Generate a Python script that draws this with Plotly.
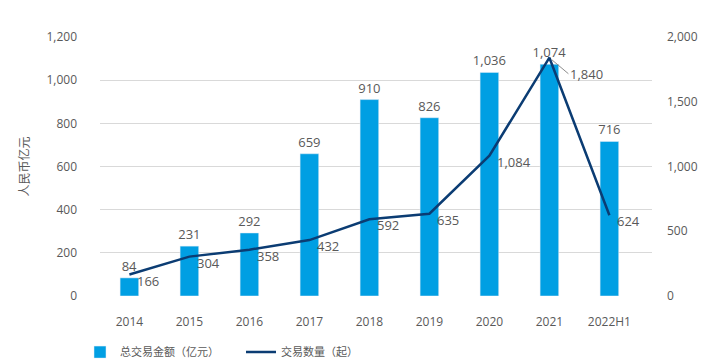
import plotly.graph_objects as go

years = ["2014", "2015", "2016", "2017", "2018", "2019", "2020", "2021", "2022H1"]
amount = [84, 231, 292, 659, 910, 826, 1036, 1074, 716]
count = [166, 304, 358, 432, 592, 635, 1084, 1840, 624]

FONT = "Open Sans, Noto Sans CJK SC, sans-serif"
GRAY = "#595959"

fig = go.Figure()
fig.add_trace(go.Bar(
    x=years, y=amount, name="总交易金额（亿元）",
    marker_color="#009FE3", width=0.31,
    text=[f"{v:,}" for v in amount], textposition="outside", constraintext="none",
    textfont=dict(color=GRAY, size=13, family=FONT), cliponaxis=False,
))
fig.add_trace(go.Scatter(
    x=years, y=count, name="交易数量（起）", yaxis="y2",
    mode="lines", line=dict(color="#0B3C73", width=2.5),
))

for i, v in enumerate(count):
    if years[i] == "2021":
        fig.add_annotation(x=i, y=v, yref="y2", text=f"{v:,}", showarrow=True,
                           arrowhead=0, arrowwidth=1, arrowcolor="#8c8c8c",
                           ax=19, ay=16, xanchor="left", standoff=3,
                           font=dict(color=GRAY, size=13, family=FONT))
    else:
        fig.add_annotation(x=i, y=v, yref="y2", text=f"{v:,}", showarrow=False,
                           xanchor="left", xshift=6, yshift=-6,
                           font=dict(color=GRAY, size=13, family=FONT))

fig.update_layout(
    width=720, height=363,
    margin=dict(l=92, r=76, t=29, b=75, autoexpand=False),
    paper_bgcolor="white", plot_bgcolor="white",
    font=dict(family=FONT, color=GRAY, size=12),
    showlegend=True,
    legend=dict(orientation="h", xref="container", yref="container",
                x=0.1, xanchor="left", y=0.052, yanchor="middle",
                font=dict(size=11, color=GRAY, family=FONT),
                entrywidth=116, entrywidthmode="pixels",
                traceorder="normal"),
    xaxis=dict(type="category", range=[-0.49, 8.71], showgrid=False,
               tickfont=dict(size=12, color=GRAY), ticks="", showline=False,
               ticklabelstandoff=17),
    yaxis=dict(range=[0, 1200], dtick=200, tickformat=",", gridcolor="#D9D9D9",
               zeroline=False, tickfont=dict(size=12, color=GRAY), ticks="",
               ticklabelstandoff=22,
               title=dict(text="人民币亿元", font=dict(size=12, color=GRAY), standoff=14)),
    yaxis2=dict(range=[0, 2000], dtick=500, tickformat=",", overlaying="y", side="right",
                showgrid=False, zeroline=False, tickfont=dict(size=12, color=GRAY),
                ticks="", ticklabelstandoff=14),
    bargap=0.5,
)

fig.write_html("out.html")
